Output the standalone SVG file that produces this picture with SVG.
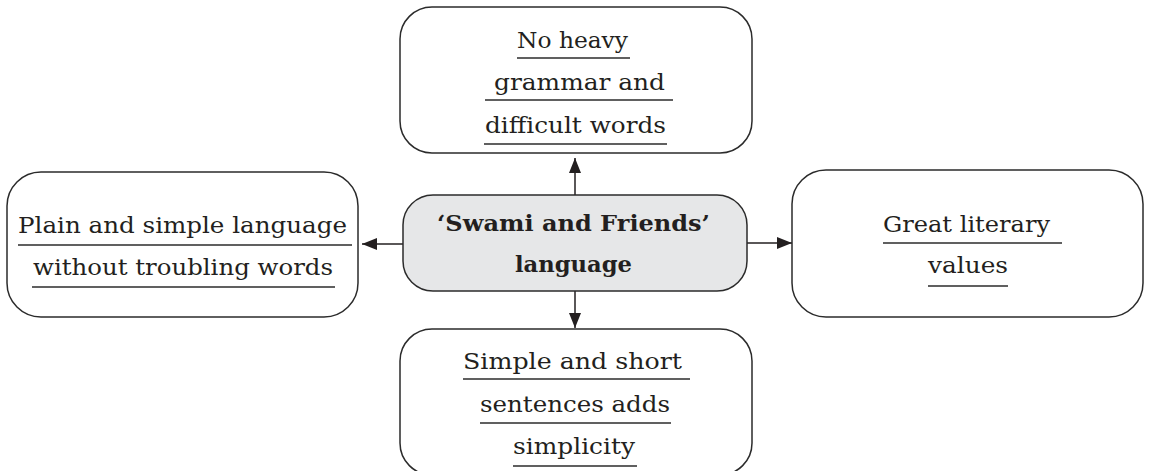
<svg xmlns="http://www.w3.org/2000/svg" width="1149" height="471" viewBox="0 0 1149 471">
<style>
.box{fill:#ffffff;stroke:#2b2b2b;stroke-width:1.5}
.core{fill:#e6e7e8;stroke:#2b2b2b;stroke-width:1.5}
.t{font-family:"DejaVu Serif","Liberation Serif",serif;font-size:23px;fill:#231f20;text-anchor:middle}
.b{font-weight:bold;font-size:22px}
.ul{stroke:#2b2b2b;stroke-width:1.5}
.con{stroke:#231f20;stroke-width:1.5;fill:none;marker-end:url(#ah)}
</style>
<defs>
<marker id="ah" markerUnits="userSpaceOnUse" markerWidth="16" markerHeight="12" refX="15" refY="6" orient="auto">
<path d="M0,0 L15,6 L0,12 z" fill="#231f20"/>
</marker>
</defs>
<rect width="1149" height="471" fill="#ffffff"/>
<g id="connectors">
<line class="con" x1="575" y1="195" x2="575" y2="158"/>
<line class="con" x1="403" y1="244" x2="362" y2="244"/>
<line class="con" x1="747" y1="243" x2="792" y2="243"/>
<line class="con" x1="575" y1="291" x2="575" y2="328"/>
</g>
<g id="top">
<rect class="box" x="400" y="7" width="352" height="146" rx="32"/>
<text class="t" x="572.5" y="48" textLength="111" lengthAdjust="spacingAndGlyphs">No heavy</text>
<line class="ul" x1="517" y1="58" x2="630" y2="58"/>
<text class="t" x="579.5" y="90" textLength="171" lengthAdjust="spacingAndGlyphs">grammar and</text>
<line class="ul" x1="485" y1="100" x2="673" y2="100"/>
<text class="t" x="575.5" y="133" textLength="181" lengthAdjust="spacingAndGlyphs">difficult words</text>
<line class="ul" x1="484" y1="144" x2="667" y2="144"/>
</g>
<g id="left">
<rect class="box" x="7" y="172" width="351" height="145" rx="34"/>
<text class="t" x="182.5" y="233" textLength="329" lengthAdjust="spacingAndGlyphs">Plain and simple language</text>
<line class="ul" x1="18" y1="245" x2="352" y2="245"/>
<text class="t" x="183" y="275" textLength="300" lengthAdjust="spacingAndGlyphs">without troubling words</text>
<line class="ul" x1="32" y1="287" x2="335" y2="287"/>
</g>
<g id="center">
<rect class="core" x="403" y="195" width="344" height="96" rx="30"/>
<text class="t b" x="573.5" y="231" textLength="273" lengthAdjust="spacingAndGlyphs">‘Swami and Friends’</text>
<text class="t b" x="573.5" y="272" textLength="117" lengthAdjust="spacingAndGlyphs">language</text>
</g>
<g id="right">
<rect class="box" x="792" y="170" width="351" height="147" rx="34"/>
<text class="t" x="966.5" y="232" textLength="167" lengthAdjust="spacingAndGlyphs">Great literary</text>
<line class="ul" x1="883" y1="243" x2="1062" y2="243"/>
<text class="t" x="968" y="273" textLength="80" lengthAdjust="spacingAndGlyphs">values</text>
<line class="ul" x1="928" y1="286" x2="1008" y2="286"/>
</g>
<g id="bottom">
<rect class="box" x="400" y="329" width="352" height="146" rx="32"/>
<text class="t" x="572.5" y="369" textLength="219" lengthAdjust="spacingAndGlyphs">Simple and short</text>
<line class="ul" x1="463" y1="379" x2="690" y2="379"/>
<text class="t" x="575" y="412" textLength="190" lengthAdjust="spacingAndGlyphs">sentences adds</text>
<line class="ul" x1="480" y1="423" x2="671" y2="423"/>
<text class="t" x="574" y="454" textLength="122" lengthAdjust="spacingAndGlyphs">simplicity</text>
<line class="ul" x1="513" y1="466" x2="637" y2="466"/>
</g>
</svg>
